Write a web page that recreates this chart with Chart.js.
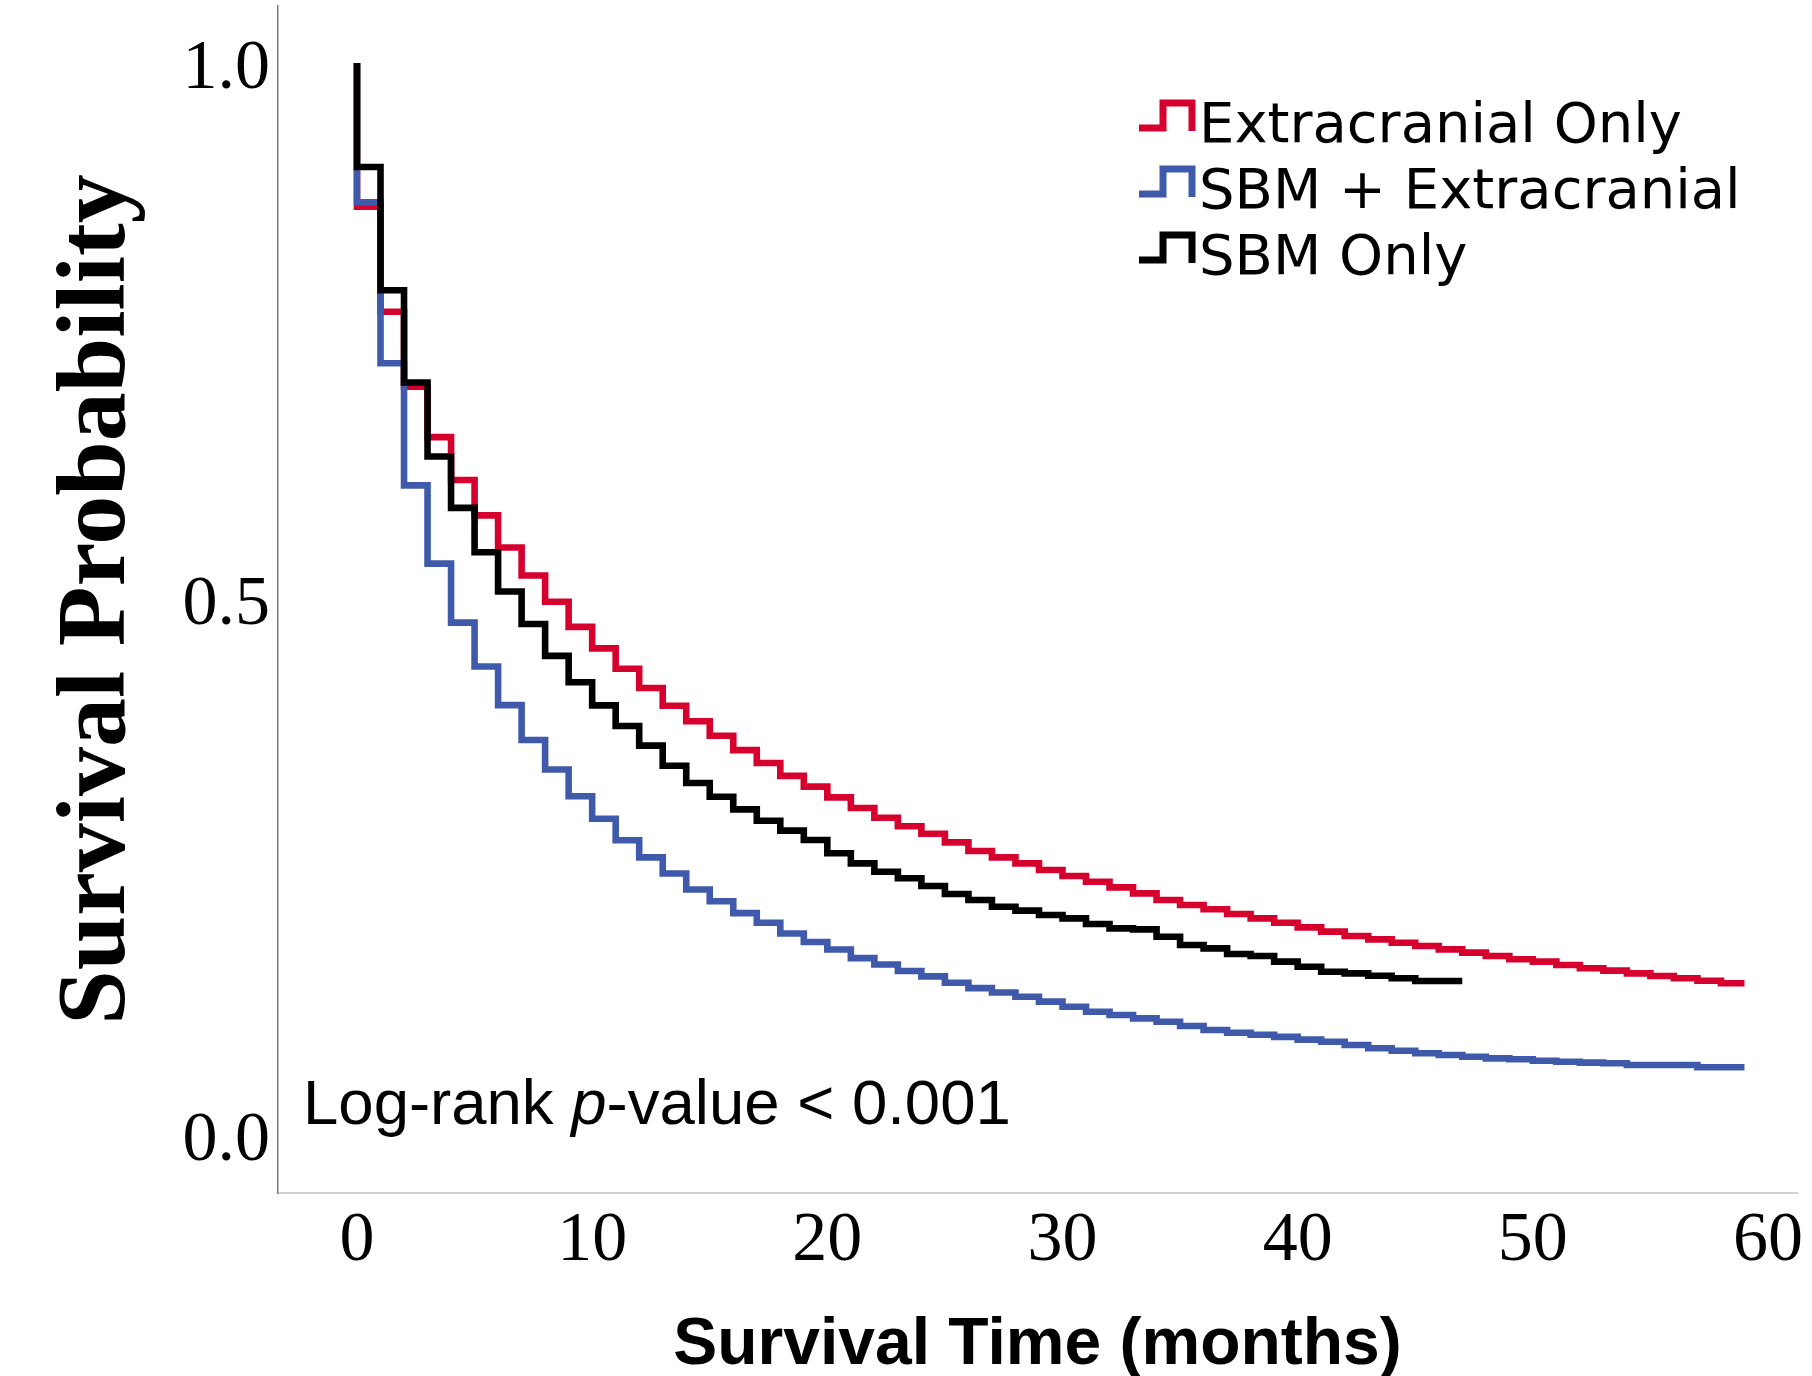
<!DOCTYPE html>
<html><head><meta charset="utf-8">
<script src="https://cdn.jsdelivr.net/npm/chart.js@4.4.1/dist/chart.umd.min.js"></script>
<style>html,body{margin:0;padding:0;background:#fff}canvas{display:block}</style>
</head><body>
<canvas id="c" width="1812" height="1376"></canvas>
<script>
// ---- data (survival probability held on each interval [month, month+1)) ----
const startValue = 1.0;
const extracranialOnly = [
  0.866, 0.768, 0.698, 0.651, 0.611, 0.578, 0.548, 0.522, 0.4975, 0.474,
  0.454, 0.435, 0.417, 0.4005, 0.386, 0.3725, 0.359, 0.347, 0.335, 0.325,
  0.315, 0.305, 0.296, 0.288, 0.281, 0.273, 0.265, 0.259, 0.2534, 0.2472,
  0.2416, 0.2363, 0.231, 0.2254, 0.2192, 0.2146, 0.2106, 0.2062, 0.2021, 0.198,
  0.1937, 0.1897, 0.1856, 0.1825, 0.1794, 0.1763, 0.1732, 0.1701, 0.167, 0.1639,
  0.1617, 0.1586, 0.1555, 0.1533, 0.1508, 0.1483, 0.1462, 0.1439, 0.1415
];
const sbmPlusExtracranial = [
  0.870, 0.720, 0.606, 0.533, 0.478, 0.437, 0.401, 0.3685, 0.341, 0.316,
  0.295, 0.275, 0.259, 0.244, 0.229, 0.218, 0.207, 0.198, 0.188, 0.180,
  0.173, 0.165, 0.159, 0.153, 0.148, 0.142, 0.137, 0.133, 0.129, 0.1244,
  0.1197, 0.115, 0.1119, 0.1088, 0.1057, 0.1017, 0.0979, 0.0954, 0.0935, 0.0915,
  0.089, 0.087, 0.084, 0.0809, 0.0786, 0.0762, 0.0746, 0.073, 0.0715, 0.0706,
  0.0693, 0.0684, 0.0675, 0.0669, 0.0653, 0.0653, 0.0653, 0.0632, 0.0632
];
const sbmOnly = [
  0.903, 0.788, 0.702, 0.633, 0.585, 0.5436, 0.507, 0.4767, 0.447, 0.4223,
  0.4008, 0.3815, 0.3632, 0.3445, 0.3284, 0.3156, 0.3038, 0.2932, 0.2839, 0.2752,
  0.2628, 0.2534, 0.2456, 0.2395, 0.2323, 0.2248, 0.2192, 0.213, 0.2093, 0.2052,
  0.2021, 0.1968, 0.1928, 0.1918, 0.185, 0.1772, 0.1741, 0.1688, 0.167, 0.1617,
  0.157, 0.1523, 0.1508, 0.1486, 0.1462, 0.1437, 0.1437
];
const followUpEnd = [59, 59, 47];           // months: last follow-up of each group
const seriesLabels = ['Extracranial Only', 'SBM + Extracranial', 'SBM Only'];
const seriesColors = ['#d6002f', '#3f5aab', '#000000'];
const xTickValues = [0, 10, 20, 30, 40, 50, 60];
const yTickValues = [0, 0.5, 1.0];
const xTitle = 'Survival Time (months)';
const yTitle = 'Survival Probability';
const annotationParts = [['Log-rank ', 'normal'], ['p', 'italic'], ['-value < 0.001', 'normal']];

function kmPoints(values, end) {
  const pts = [{x: 0, y: startValue}];
  values.forEach((v, i) => pts.push({x: i, y: v}));
  pts.push({x: end, y: values[values.length - 1]});
  return pts;
}
const seriesValues = [extracranialOnly, sbmPlusExtracranial, sbmOnly];

const datasets = seriesValues.map((vals, i) => ({
  label: seriesLabels[i],
  data: kmPoints(vals, followUpEnd[i]),
  borderColor: seriesColors[i],
  backgroundColor: seriesColors[i],
  borderWidth: 6.6,
  borderCapStyle: 'butt',
  borderJoinStyle: 'miter',
  stepped: 'before',
  pointRadius: 0,
  fill: false,
  order: 3 - i
}));

const overlayPlugin = {
  id: 'overlay',
  afterDraw(chart) {
    const ctx = chart.ctx;
    ctx.save();
    // legend
    const rowY = [142, 208, 274];
    seriesLabels.forEach((lab, i) => {
      const b = rowY[i];
      ctx.strokeStyle = seriesColors[i];
      ctx.lineWidth = 7;
      ctx.lineCap = 'butt';
      ctx.lineJoin = 'miter';
      ctx.beginPath();
      ctx.moveTo(1139, b - 14);
      ctx.lineTo(1163, b - 14);
      ctx.lineTo(1163, b - 39);
      ctx.lineTo(1192, b - 39);
      ctx.lineTo(1192, b - 11);
      ctx.stroke();
      ctx.fillStyle = '#000';
      ctx.font = '56px "DejaVu Sans"';
      ctx.textAlign = 'left';
      ctx.textBaseline = 'alphabetic';
      ctx.fillText(lab, 1199, b);
    });
    // annotation
    let x = 303;
    ctx.fillStyle = '#000';
    annotationParts.forEach(([t, st]) => {
      ctx.font = (st === 'italic' ? 'italic ' : '') + '63.5px "Liberation Sans"';
      ctx.fillText(t, x, 1124);
      x += ctx.measureText(t).width;
    });
    ctx.restore();
  }
};

new Chart(document.getElementById('c'), {
  type: 'line',
  data: { datasets },
  plugins: [overlayPlugin],
  options: {
    responsive: false,
    devicePixelRatio: 1,
    animation: false,
    layout: { padding: { top: 6, right: 15, bottom: 0, left: 0 } },
    plugins: { legend: { display: false }, tooltip: { enabled: false } },
    scales: {
      x: {
        type: 'linear',
        min: -3.359,
        max: 61.233,
        afterBuildTicks: s => { s.ticks = xTickValues.map(v => ({ value: v })); },
        afterFit: s => { s.height = 183; s.paddingLeft = 0; s.paddingRight = 0; },
        grid: { display: false, drawTicks: false },
        border: { display: true, color: '#d2d2d2', width: 2 },
        ticks: {
          padding: 7,
          maxRotation: 0,
          autoSkip: false,
          color: '#000',
          font: { family: '"Liberation Serif"', size: 70 },
          callback: v => String(v)
        },
        title: {
          display: true, text: xTitle, color: '#000',
          font: { family: '"Liberation Sans"', size: 66, weight: 'bold', lineHeight: 0.9 },
          padding: { top: 0, bottom: 1 }
        }
      },
      y: {
        type: 'linear',
        min: -0.0541,
        max: 1.0532,
        afterBuildTicks: s => { s.ticks = yTickValues.map(v => ({ value: v })); },
        afterFit: s => { s.width = 278; s.paddingTop = 0; s.paddingBottom = 0; },
        grid: { display: false, drawTicks: false },
        border: { display: true, color: '#7a7a7a', width: 1.5 },
        ticks: {
          padding: 8,
          autoSkip: false,
          color: '#000',
          font: { family: '"Liberation Serif"', size: 70, lineHeight: '14px' },
          callback: v => ['', Number(v).toFixed(1)]
        },
        title: {
          display: true, text: yTitle, color: '#000',
          font: { family: '"Liberation Serif"', size: 98, weight: 'bold', lineHeight: 1.2 },
          padding: { top: 40, bottom: 0 }
        }
      }
    }
  }
});
</script>
</body></html>
